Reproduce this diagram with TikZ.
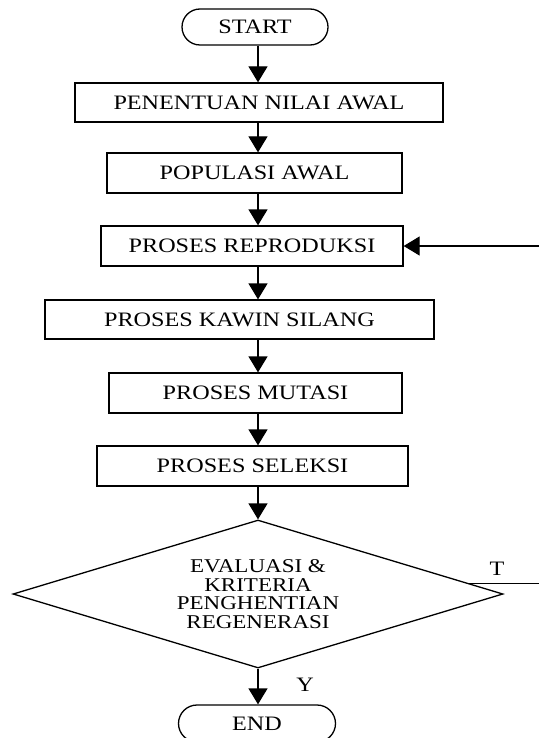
\documentclass[tikz,border=0pt]{standalone}
\usepackage{fontspec}
\setmainfont{Liberation Serif}[FakeStretch=1.18]
\usetikzlibrary{shapes.geometric,shapes.misc,arrows.meta,calc}
\begin{document}
\begin{tikzpicture}[x=1pt,y=-1pt,line width=1.3pt,
  txt/.style={font=\fontsize{20.5}{17.5}\selectfont},
  box/.style={txt,draw,rectangle,inner sep=0pt},
  term/.style={txt,draw,rounded rectangle,inner sep=0pt},
  arr/.style={-{Triangle[length=16pt,width=19pt]}}]
\useasboundingbox (0,0) rectangle (538,738);
\node[term,minimum width=146pt,minimum height=36pt] (start) at (255,27) {START};
\node[box,minimum width=368pt,minimum height=39pt] (b1) at (259,102.5) {PENENTUAN NILAI AWAL};
\node[box,minimum width=295pt,minimum height=40pt] (b2) at (254.5,173) {POPULASI AWAL};
\node[box,minimum width=302pt,minimum height=40pt] (b3) at (252,246) {PROSES REPRODUKSI};
\node[box,minimum width=389pt,minimum height=39pt] (b4) at (239.5,319.5) {PROSES KAWIN SILANG};
\node[box,minimum width=293pt,minimum height=40pt] (b5) at (255.5,393) {PROSES MUTASI};
\node[box,minimum width=311pt,minimum height=40pt] (b6) at (252.5,466) {PROSES SELEKSI};
\node[draw,diamond,aspect=3.3,inner sep=0pt,minimum width=490pt,minimum height=148pt,align=center,
  font=\fontsize{19.5}{18.5}\selectfont] (dia) at (258,594)
  {EVALUASI \&\\KRITERIA\\PENGHENTIAN\\REGENERASI};
\node[term,minimum width=157pt,minimum height=37pt] (end) at (257,723.5) {END};
\node[txt] (tl) at (497,569) {T};
\node[txt] (yl) at (305,685) {Y};
\coordinate (ax) at (258,0);
\coordinate (rt) at (541,0);
\draw[arr] (ax |- start.south) -- (ax |- b1.north);
\draw[arr] (ax |- b1.south) -- (ax |- b2.north);
\draw[arr] (ax |- b2.south) -- (ax |- b3.north);
\draw[arr] (ax |- b3.south) -- (ax |- b4.north);
\draw[arr] (ax |- b4.south) -- (ax |- b5.north);
\draw[arr] (ax |- b5.south) -- (ax |- b6.north);
\draw[arr] (ax |- b6.south) -- (dia.north);
\draw[arr] (dia.south) -- (dia.south |- end.north);
\coordinate (ts) at ($(dia.east)!0.14!(dia.north)$);
\draw[arr] (ts) -- (rt |- ts) -- (rt |- b3.east) -- (b3.east);
\end{tikzpicture}
\end{document}
